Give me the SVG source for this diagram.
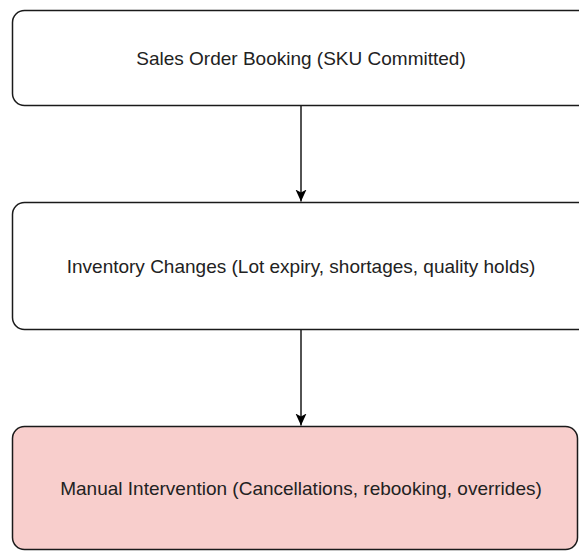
<svg xmlns="http://www.w3.org/2000/svg" width="579" height="552" viewBox="0 0 579 552">
<style>
.box{fill:#ffffff;stroke:#1a1a1a;stroke-width:1.5}
.hot{fill:#f8cecc;stroke:#1a1a1a;stroke-width:1.5}
.lbl{font-family:"Liberation Sans",Arial,sans-serif;font-size:19px;fill:#222222;text-anchor:middle;dominant-baseline:central}
.edge{stroke:#1a1a1a;stroke-width:1.5;fill:none}
</style>
<defs>
<marker id="arr" markerWidth="12" markerHeight="12" refX="12" refY="6" orient="auto" markerUnits="userSpaceOnUse">
<path d="M0,0.5 L12,6 L0,11.5 L3,6 Z" fill="#000000"/>
</marker>
</defs>
<g id="connectors">
<line class="edge" x1="301" y1="106" x2="301" y2="201.5" marker-end="url(#arr)"/>
<line class="edge" x1="301" y1="330" x2="301" y2="425.5" marker-end="url(#arr)"/>
</g>
<g id="node-sales">
<rect class="box" x="12.5" y="10.5" width="578" height="95" rx="12" ry="12"/>
<text class="lbl" x="301" y="58">Sales Order Booking (SKU Committed)</text>
</g>
<g id="node-inventory">
<rect class="box" x="12.5" y="202.5" width="578" height="127" rx="12" ry="12"/>
<text class="lbl" x="301" y="266">Inventory Changes (Lot expiry, shortages, quality holds)</text>
</g>
<g id="node-manual">
<rect class="hot" x="12.5" y="426.5" width="565" height="123" rx="12" ry="12"/>
<text class="lbl" x="301" y="488">Manual Intervention (Cancellations, rebooking, overrides)</text>
</g>
</svg>
